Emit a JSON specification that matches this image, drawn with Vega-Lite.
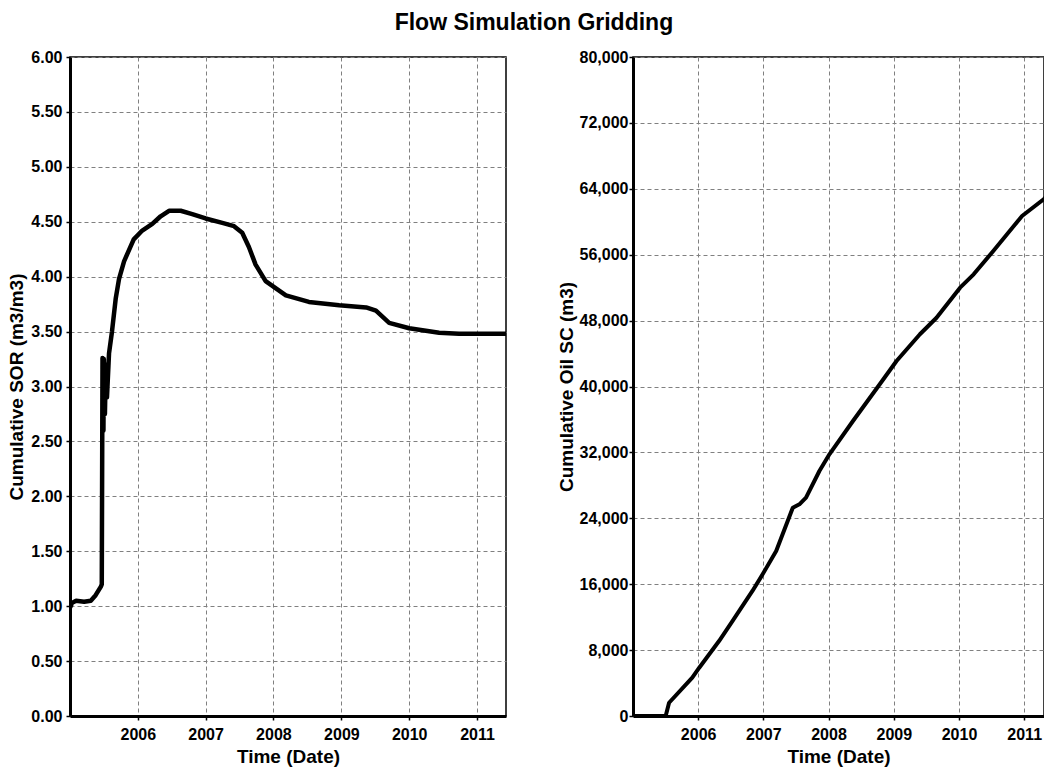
{
  "$schema": "https://vega.github.io/schema/vega-lite/v6.json",
  "padding": {"left": 7, "top": 12, "right": 0, "bottom": 0},
  "background": "white",
  "title": {"text": "Flow Simulation Gridding", "fontSize": 23, "font": "Liberation Sans", "fontWeight": "bold", "color": "black", "anchor": "middle", "offset": 13, "dx": 8},
  "datasets": {
    "sor": [
      {"date": "2005-01-02", "sor": 0.99},
      {"date": "2005-01-12", "sor": 1.03},
      {"date": "2005-02-03", "sor": 1.05},
      {"date": "2005-03-18", "sor": 1.04},
      {"date": "2005-04-23", "sor": 1.05},
      {"date": "2005-05-19", "sor": 1.10},
      {"date": "2005-06-17", "sor": 1.18},
      {"date": "2005-06-21", "sor": 1.20},
      {"date": "2005-06-25", "sor": 3.26},
      {"date": "2005-06-30", "sor": 2.60},
      {"date": "2005-07-02", "sor": 3.25},
      {"date": "2005-07-08", "sor": 2.75},
      {"date": "2005-07-13", "sor": 3.20},
      {"date": "2005-07-19", "sor": 2.90},
      {"date": "2005-07-30", "sor": 3.30},
      {"date": "2005-08-15", "sor": 3.50},
      {"date": "2005-09-04", "sor": 3.80},
      {"date": "2005-09-22", "sor": 3.98},
      {"date": "2005-10-19", "sor": 4.14},
      {"date": "2005-12-10", "sor": 4.34},
      {"date": "2006-01-25", "sor": 4.42},
      {"date": "2006-03-20", "sor": 4.48},
      {"date": "2006-05-04", "sor": 4.55},
      {"date": "2006-06-18", "sor": 4.60},
      {"date": "2006-08-20", "sor": 4.60},
      {"date": "2006-10-21", "sor": 4.57},
      {"date": "2007-01-01", "sor": 4.53},
      {"date": "2007-04-01", "sor": 4.49},
      {"date": "2007-06-03", "sor": 4.46},
      {"date": "2007-07-17", "sor": 4.40},
      {"date": "2007-08-22", "sor": 4.27},
      {"date": "2007-09-27", "sor": 4.11},
      {"date": "2007-11-20", "sor": 3.96},
      {"date": "2008-03-08", "sor": 3.83},
      {"date": "2008-07-10", "sor": 3.77},
      {"date": "2008-12-20", "sor": 3.74},
      {"date": "2009-05-14", "sor": 3.72},
      {"date": "2009-07-06", "sor": 3.69},
      {"date": "2009-09-15", "sor": 3.58},
      {"date": "2010-01-01", "sor": 3.53},
      {"date": "2010-06-11", "sor": 3.49},
      {"date": "2010-09-26", "sor": 3.48},
      {"date": "2011-06-06", "sor": 3.48}
    ],
    "oil": [
      {"date": "2005-01-01", "oil": 0},
      {"date": "2005-07-03", "oil": 0},
      {"date": "2005-07-22", "oil": 1610},
      {"date": "2005-11-29", "oil": 4650},
      {"date": "2006-01-07", "oil": 5860},
      {"date": "2006-04-28", "oil": 9100},
      {"date": "2006-07-12", "oil": 11530},
      {"date": "2006-11-01", "oil": 15180},
      {"date": "2006-12-28", "oil": 17200},
      {"date": "2007-03-14", "oil": 20030},
      {"date": "2007-06-15", "oil": 25290},
      {"date": "2007-07-22", "oil": 25700},
      {"date": "2007-08-28", "oil": 26500},
      {"date": "2007-11-11", "oil": 29740},
      {"date": "2008-01-07", "oil": 31800},
      {"date": "2008-05-17", "oil": 35810},
      {"date": "2008-10-14", "oil": 40270},
      {"date": "2009-01-16", "oil": 43100},
      {"date": "2009-05-27", "oil": 46340},
      {"date": "2009-08-28", "oil": 48350},
      {"date": "2010-01-07", "oil": 52000},
      {"date": "2010-03-24", "oil": 53620},
      {"date": "2010-07-12", "oil": 56450},
      {"date": "2010-12-20", "oil": 60700},
      {"date": "2011-04-22", "oil": 62760},
      {"date": "2011-06-06", "oil": 63900}
    ]
  },
  "spacing": 49,
  "hconcat": [
    {
      "width": 436,
      "height": 659,
      "data": {"name": "sor"},
      "mark": {"type": "line", "color": "black", "strokeWidth": 4.5, "strokeJoin": "round", "clip": true},
      "encoding": {
        "x": {
          "field": "date", "type": "temporal",
          "scale": {"type": "utc", "domain": [{"year": 2005, "month": 1, "date": 1, "utc": true}, {"year": 2011, "month": 6, "date": 6, "utc": true}], "nice": false},
          "axis": {"title": "Time (Date)", "format": "%Y", "values": [{"year": 2006, "utc": true}, {"year": 2007, "utc": true}, {"year": 2008, "utc": true}, {"year": 2009, "utc": true}, {"year": 2010, "utc": true}, {"year": 2011, "utc": true}], "labelPadding": 6, "titlePadding": 5}
        },
        "y": {
          "field": "sor", "type": "quantitative",
          "scale": {"domain": [0, 6], "nice": false},
          "axis": {"title": "Cumulative SOR (m3/m3)", "format": ".2f", "values": [0, 0.5, 1, 1.5, 2, 2.5, 3, 3.5, 4, 4.5, 5, 5.5, 6], "labelPadding": 4, "titlePadding": 4}
        }
      }
    },
    {
      "width": 411,
      "height": 659,
      "data": {"name": "oil"},
      "mark": {"type": "line", "color": "black", "strokeWidth": 4, "strokeJoin": "round", "clip": true},
      "encoding": {
        "x": {
          "field": "date", "type": "temporal",
          "scale": {"type": "utc", "domain": [{"year": 2005, "month": 1, "date": 1, "utc": true}, {"year": 2011, "month": 4, "date": 22, "utc": true}], "nice": false},
          "axis": {"title": "Time (Date)", "format": "%Y", "values": [{"year": 2006, "utc": true}, {"year": 2007, "utc": true}, {"year": 2008, "utc": true}, {"year": 2009, "utc": true}, {"year": 2010, "utc": true}, {"year": 2011, "utc": true}], "labelPadding": 6, "titlePadding": 5}
        },
        "y": {
          "field": "oil", "type": "quantitative",
          "scale": {"domain": [0, 80000], "nice": false},
          "axis": {"title": "Cumulative Oil SC (m3)", "format": ",.0f", "values": [0, 8000, 16000, 24000, 32000, 40000, 48000, 56000, 64000, 72000, 80000], "labelPadding": 1, "titlePadding": 3}
        }
      }
    }
  ],
  "config": {
    "font": "Liberation Sans",
    "view": {"stroke": "black", "strokeWidth": 1.5},
    "axis": {
      "labelFont": "Liberation Sans", "labelFontSize": 16, "labelFontWeight": "bold", "labelColor": "black",
      "titleFont": "Liberation Sans", "titleFontSize": 19, "titleFontWeight": "bold", "titleColor": "black",
      "domainColor": "black", "domainWidth": 3, "tickColor": "black", "tickSize": 4, "tickWidth": 1.5,
      "gridColor": "#808080", "gridDash": [4, 3], "gridWidth": 1, "labelPadding": 2,
      "labelFlush": false, "labelOverlap": false
    }
  }
}
